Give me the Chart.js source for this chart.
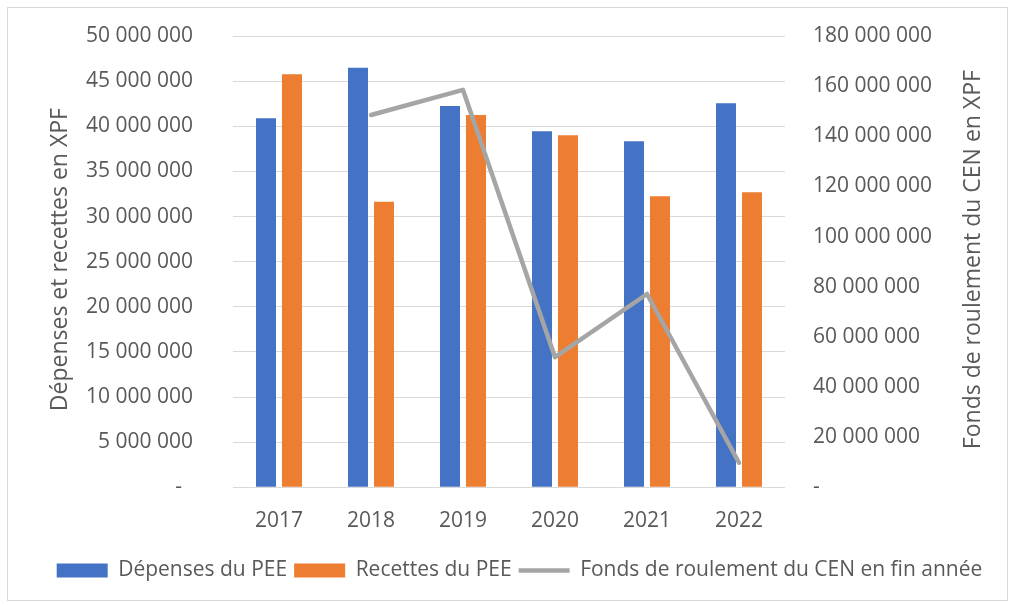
<!DOCTYPE html>
<html><head><meta charset="utf-8">
<script src="https://cdn.jsdelivr.net/npm/chart.js@4.4.1/dist/chart.umd.min.js"></script>
<style>
html,body{margin:0;padding:0;background:#fff;}
#wrap{position:relative;width:1011px;height:605px;}
#frame{position:absolute;left:7px;top:7px;width:1001px;height:594px;border:1px solid #d9d9d9;box-sizing:border-box;}
canvas{position:absolute;left:0;top:0;}
</style></head>
<body><div id="wrap"><div id="frame"></div><canvas id="c" width="1011" height="605"></canvas></div>
<script>
const categories = ['2017','2018','2019','2020','2021','2022'];
const depenses = [40880000, 46490000, 42240000, 39440000, 38330000, 42540000];
const recettes = [45760000, 31640000, 41250000, 39000000, 32240000, 32680000];
const fonds = [null, 148500000, 158500000, 51900000, 77100000, 9800000];
const leftTitle = 'Dépenses et recettes en XPF';
const rightTitle = 'Fonds de roulement du CEN en XPF';
const seriesNames = ['Dépenses du PEE','Recettes du PEE','Fonds de roulement du CEN en fin année'];

const FONT = "'Open Sans', 'Liberation Sans', sans-serif";
const TXT = '#595959';
function fmt(v){ return String(Math.round(v)).replace(/\B(?=(\d{3})+(?!\d))/g,' '); }

const titlesPlugin = {
  id:'titles',
  afterLayout(chart){
    if (chart.legend){ chart.legend.left += 14; chart.legend.right += 14; }
  },
  afterDraw(chart){
    const ctx = chart.ctx;
    const ca = chart.chartArea;
    const cy = (ca.top + ca.bottom)/2 - 2;
    ctx.save();
    ctx.fillStyle = TXT;
    ctx.font = "23px " + FONT;
    ctx.textAlign = 'center';
    ctx.textBaseline = 'middle';
    ctx.translate(60, cy);
    ctx.rotate(-Math.PI/2);
    ctx.fillText(leftTitle, 0, 0);
    ctx.restore();
    ctx.save();
    ctx.fillStyle = TXT;
    ctx.font = "23px " + FONT;
    ctx.textAlign = 'center';
    ctx.textBaseline = 'middle';
    ctx.translate(973, cy);
    ctx.rotate(-Math.PI/2);
    ctx.fillText(rightTitle, 0, 0);
    ctx.restore();
  }
};

new Chart(document.getElementById('c'), {
  type:'bar',
  data:{
    labels: categories,
    datasets:[
      {label:seriesNames[0], data:depenses, backgroundColor:'#4472c4', borderWidth:0, yAxisID:'y', order:1,
       categoryPercentage:0.565, barPercentage:0.77},
      {label:seriesNames[1], data:recettes, backgroundColor:'#ed7d31', borderWidth:0, yAxisID:'y', order:1,
       categoryPercentage:0.565, barPercentage:0.77},
      {type:'line', label:seriesNames[2], data:fonds, borderColor:'#a5a5a5', backgroundColor:'#a5a5a5',
       borderWidth:4.5, pointRadius:0, pointHoverRadius:0, yAxisID:'y1', order:0, tension:0,
       borderJoinStyle:'round', borderCapStyle:'round', spanGaps:false}
    ]
  },
  options:{
    responsive:false, animation:false, devicePixelRatio:1,
    layout:{padding:{top:36,left:0,right:0,bottom:14}},
    plugins:{
      tooltip:{enabled:false},
      legend:{
        position:'bottom',
        labels:{
          color:TXT, font:{family:FONT,size:21}, usePointStyle:true, pointStyleWidth:51, boxHeight:14, padding:7,
          generateLabels(chart){
            const items = Chart.defaults.plugins.legend.labels.generateLabels(chart);
            items.sort((a,b)=>a.datasetIndex-b.datasetIndex);
            items.forEach(it=>{
              if (it.datasetIndex<2){ it.pointStyle='rect'; it.lineWidth=0; it.strokeStyle=it.fillStyle; }
              else { it.pointStyle='line'; it.lineWidth=4.5; it.strokeStyle='#a5a5a5'; it.fillStyle='#a5a5a5'; }
            });
            return items;
          }
        }
      }
    },
    scales:{
      x:{
        grid:{display:false}, border:{display:false},
        ticks:{color:TXT, font:{family:FONT,size:21}, padding:13, maxRotation:0},
        afterFit(s){ s.height += 6.5; }
      },
      y:{
        position:'left', min:0, max:50000000,
        grid:{color:'#d9d9d9', lineWidth:1, drawTicks:false}, border:{display:false},
        ticks:{stepSize:5000000, color:TXT, font:{family:FONT,size:21}, padding:40,
          callback:(v)=> v===0 ? '-\u00a0\u00a0' : fmt(v)},
        afterFit(s){ s.width = 233; s.paddingTop = 0; s.paddingBottom = 0; }
      },
      y1:{
        position:'right', min:0, max:180000000,
        grid:{display:false, drawTicks:false}, border:{display:false},
        ticks:{stepSize:20000000, color:TXT, font:{family:FONT,size:21}, padding:28,
          callback:(v)=> v===0 ? '-' : fmt(v)},
        afterFit(s){ s.width = 226; s.paddingTop = 0; s.paddingBottom = 0; }
      }
    }
  },
  plugins:[titlesPlugin]
});
</script></body></html>
